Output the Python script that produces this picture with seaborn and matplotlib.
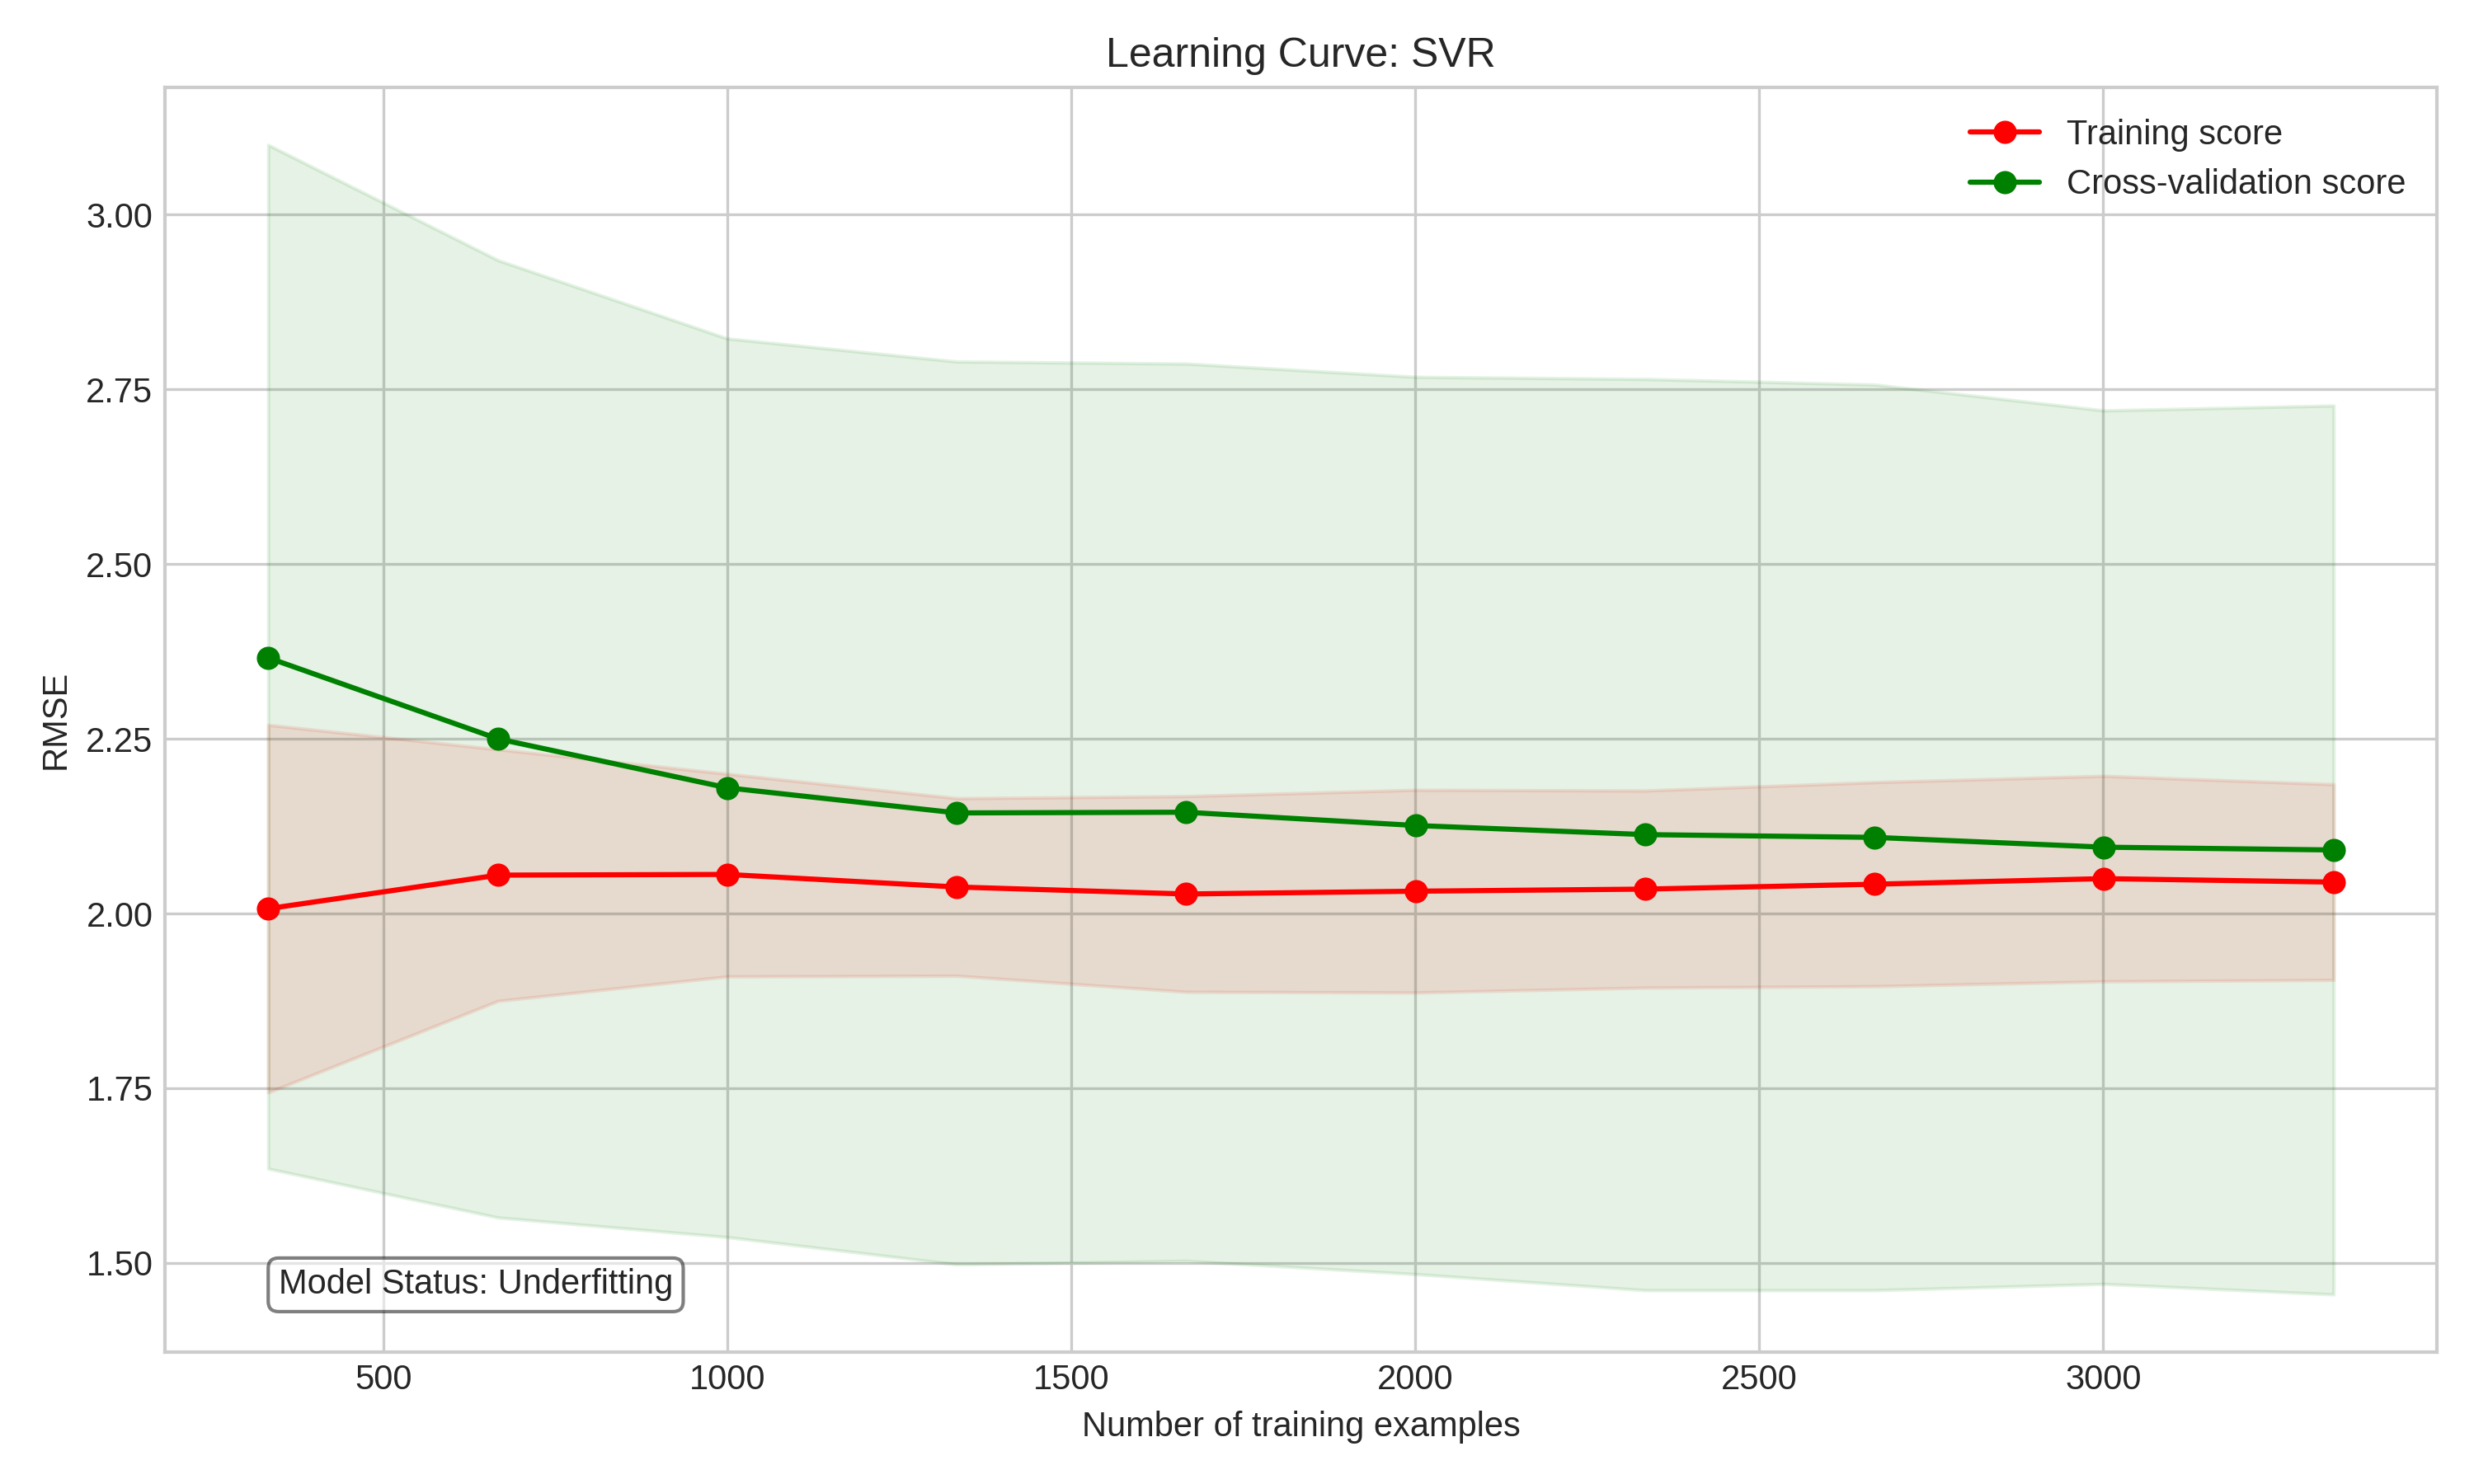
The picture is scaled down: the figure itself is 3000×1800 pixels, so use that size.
import matplotlib
matplotlib.use('Agg')
import matplotlib.pyplot as plt
import seaborn as sns
import numpy as np

train_sizes = [333, 667, 1000, 1334, 1667, 2001, 2334, 2668, 3001, 3335]
train_mean = [2.007, 2.055, 2.056, 2.038, 2.028, 2.032, 2.035, 2.042, 2.050, 2.045]
train_upper = [2.270, 2.235, 2.200, 2.165, 2.168, 2.177, 2.176, 2.188, 2.197, 2.185]
train_lower = [1.744, 1.875, 1.910, 1.911, 1.888, 1.887, 1.894, 1.896, 1.903, 1.905]
cv_mean = [2.366, 2.250, 2.180, 2.144, 2.145, 2.126, 2.113, 2.109, 2.095, 2.091]
cv_upper = [3.100, 2.935, 2.823, 2.790, 2.787, 2.768, 2.765, 2.757, 2.720, 2.727]
cv_lower = [1.635, 1.565, 1.537, 1.498, 1.503, 1.484, 1.461, 1.461, 1.470, 1.455]

plt.style.use('seaborn-v0_8-whitegrid')
plt.rcParams['font.family'] = ['Liberation Sans', 'DejaVu Sans']

fig, ax = plt.subplots(figsize=(10, 6))

# Shaded bands
ax.fill_between(train_sizes, train_lower, train_upper, alpha=0.1, color='r')
ax.fill_between(train_sizes, cv_lower, cv_upper, alpha=0.1, color='g')

sns.lineplot(x=train_sizes, y=train_mean, marker='o', color='r', markeredgecolor='r',
             label='Training score', ax=ax)
sns.lineplot(x=train_sizes, y=cv_mean, marker='o', color='g', markeredgecolor='g',
             label='Cross-validation score', ax=ax)

ax.set_title('Learning Curve: SVR')
ax.set_xlabel('Number of training examples')
ax.set_ylabel('RMSE')
ax.legend(loc='upper right')
for s in ax.spines.values():
    s.set_visible(True)
    s.set_color('#cccccc')

ax.text(0.05, 0.04, 'Model Status: Underfitting', transform=ax.transAxes,
        fontsize=10, va='bottom', ha='left',
        bbox=dict(boxstyle='round', facecolor='white', alpha=0.5))

plt.tight_layout()
plt.savefig('out.png', dpi=300)
plt.close()
